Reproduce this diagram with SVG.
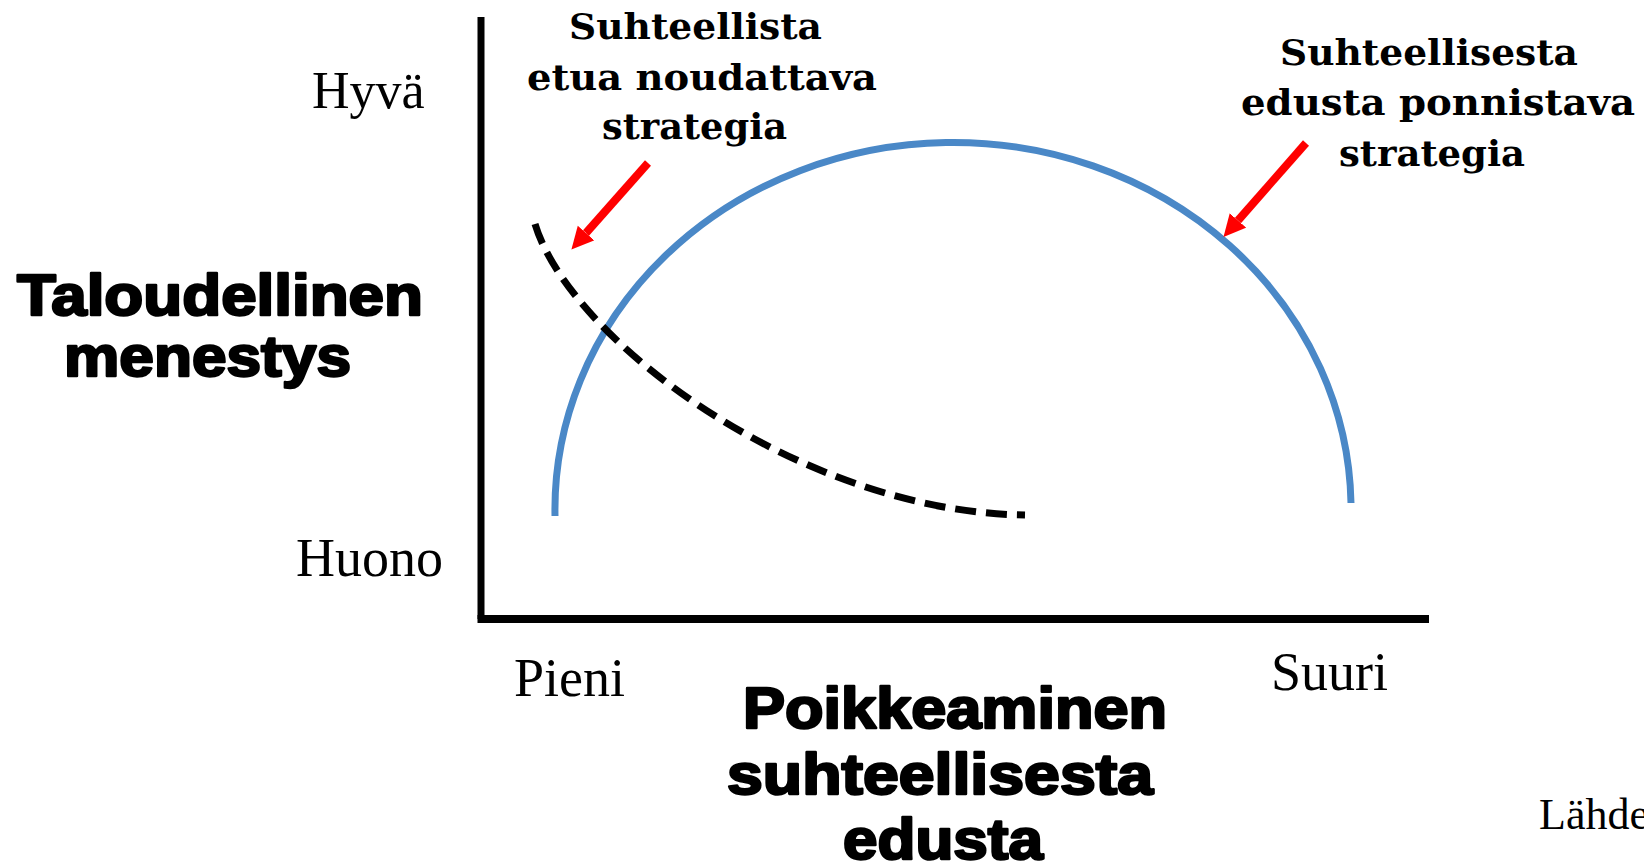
<svg xmlns="http://www.w3.org/2000/svg" width="1644" height="865" viewBox="0 0 1644 865">
<style>
.serif{font-family:"Liberation Serif","Times New Roman",serif;fill:#000}
.bserif{font-family:"DejaVu Serif","Liberation Serif",serif;font-weight:bold;font-size:35px;fill:#000}
.heavy{font-family:"Liberation Sans",Arial,sans-serif;font-weight:bold;font-size:58px;fill:#000;stroke:#000;stroke-width:2.5;stroke-linejoin:round}
.axis{stroke:#000;fill:none}
.arrow{stroke:#ff0000;stroke-width:8;fill:none;marker-end:url(#redhead)}
</style>
<defs>
<marker id="redhead" markerUnits="userSpaceOnUse" markerWidth="24" markerHeight="24" refX="0" refY="11" orient="auto">
<path d="M0,0 L22,11 L0,22 z" fill="#ff0000"/>
</marker>
</defs>
<rect width="1644" height="865" fill="#ffffff"/>

<g id="axes">
<line class="axis" x1="481" y1="17" x2="481" y2="619" stroke-width="7"/>
<line class="axis" x1="477.5" y1="619" x2="1429" y2="619" stroke-width="8"/>
</g>

<g id="y-axis-labels">
<text class="serif" x="312" y="108" font-size="52">Hyvä</text>
<text class="serif" x="296" y="576" font-size="54">Huono</text>
<text class="heavy" x="17" y="315" textLength="406" lengthAdjust="spacingAndGlyphs">Taloudellinen</text>
<text class="heavy" x="64" y="376" textLength="287" lengthAdjust="spacingAndGlyphs">menestys</text>
</g>

<g id="x-axis-labels">
<text class="serif" x="514" y="696" font-size="54">Pieni</text>
<text class="serif" x="1271" y="690" font-size="54">Suuri</text>
<text class="heavy" x="743" y="728" textLength="424" lengthAdjust="spacingAndGlyphs">Poikkeaminen</text>
<text class="heavy" x="727" y="794" textLength="426" lengthAdjust="spacingAndGlyphs">suhteellisesta</text>
<text class="heavy" x="843" y="859" textLength="200" lengthAdjust="spacingAndGlyphs">edusta</text>
</g>

<g id="label-follow">
<text class="bserif" x="569" y="39" textLength="253" lengthAdjust="spacingAndGlyphs">Suhteellista</text>
<text class="bserif" x="527" y="90" textLength="350" lengthAdjust="spacingAndGlyphs">etua noudattava</text>
<text class="bserif" x="602" y="139" textLength="185" lengthAdjust="spacingAndGlyphs">strategia</text>
</g>

<g id="label-deviate">
<text class="bserif" x="1280" y="65" textLength="298" lengthAdjust="spacingAndGlyphs">Suhteellisesta</text>
<text class="bserif" x="1241" y="115" textLength="394" lengthAdjust="spacingAndGlyphs">edusta ponnistava</text>
<text class="bserif" x="1339" y="166" textLength="186" lengthAdjust="spacingAndGlyphs">strategia</text>
</g>

<g id="source">
<text class="serif" x="1539" y="829" font-size="44">Lähde</text>
</g>

<g id="curve-deviate">
<path d="M555,516 A398,367 0 0 1 1351,503" fill="none" stroke="#4a88c7" stroke-width="7"/>
</g>

<g id="curve-follow">
<path d="M535,224 C570,340 800,512 1025,515" fill="none" stroke="#000" stroke-width="7" stroke-dasharray="21 10"/>
</g>

<g id="connectors">
<line class="arrow" x1="648" y1="163" x2="586" y2="233"/>
<line class="arrow" x1="1306" y1="143" x2="1238" y2="220.5"/>
</g>
</svg>
